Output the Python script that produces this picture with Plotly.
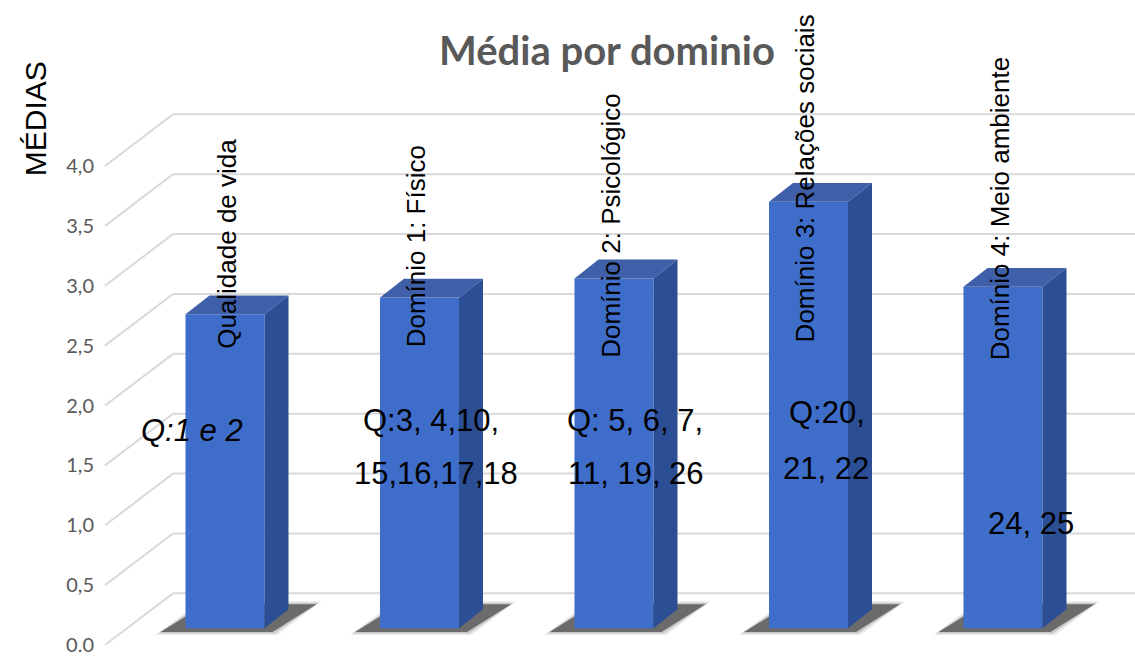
import plotly.graph_objects as go

# ---------------- data ----------------
categories = ["Qualidade de vida", "Domínio 1: Físico", "Domínio 2: Psicológico",
              "Domínio 3: Relações sociais", "Domínio 4: Meio ambiente"]
medias = [2.62, 2.76, 2.92, 3.56, 2.85]
question_lines = [["Q:1 e 2"], ["Q:3, 4,10,", "15,16,17,18"], ["Q: 5, 6, 7,", "11, 19, 26"],
                  ["Q:20,", "21, 22"], ["24, 25"]]
tick_vals = [0, 0.5, 1.0, 1.5, 2.0, 2.5, 3.0, 3.5, 4.0]
tick_text = ["0.0", "0,5", "1,0", "1,5", "2,0", "2,5", "3,0", "3,5", "4,0"]

# ---------------- style / geometry ----------------
W, H = 1135, 656
PX_PER_CAT = 194.5
PX_PER_UNIT = 120.5
X_FIRST = 225.0      # pixel centre of first bar
Y_ZERO = 632.0       # pixel of value 0 in bar plane
BAR_W = 79 / PX_PER_CAT
DX = 24 / PX_PER_CAT
DY = 19 / PX_PER_UNIT
FRONT_OFF = (649 - Y_ZERO) / PX_PER_UNIT     # front floor plane offset (units)
BACK_OFF = (Y_ZERO - 597) / PX_PER_UNIT      # back wall offset (units)

x_range = [-X_FIRST / PX_PER_CAT, (W - X_FIRST) / PX_PER_CAT]
y_range = [-(H - Y_ZERO) / PX_PER_UNIT, Y_ZERO / PX_PER_UNIT]

def px_to_x(px):
    return (px - X_FIRST) / PX_PER_CAT

FRONT_COL = "#3f6dca"
TOP_COL = "#3f5fa8"
SIDE_COL = "#2c4e95"
GRID_COL = "#d9d9d9"

fig = go.Figure()

# gridlines: diagonal floor lines + back wall horizontal lines
shapes = []
for v in tick_vals:
    shapes.append(dict(type="line", xref="x", yref="y", layer="below",
                       x0=px_to_x(105), y0=v - FRONT_OFF, x1=px_to_x(173), y1=v + BACK_OFF,
                       line=dict(color=GRID_COL, width=2)))
    shapes.append(dict(type="line", xref="x", yref="y", layer="below",
                       x0=px_to_x(173), y0=v + BACK_OFF, x1=x_range[1], y1=v + BACK_OFF,
                       line=dict(color=GRID_COL, width=2)))

# soft shadows under the bars (below traces)
def poly_path(pts):
    return "M " + " L ".join(f"{x},{y}" for x, y in pts) + " Z"

for i, v in enumerate(medias):
    l = i - BAR_W / 2
    for grow, col in [(5, "rgba(0,0,0,0.08)"), (2.5, "rgba(0,0,0,0.15)"), (0, "rgba(45,45,45,0.6)")]:
        pts = [(l + (-25 - grow) / PX_PER_CAT, (-4 - grow * 0.6) / PX_PER_UNIT),
               (l + (87 + grow) / PX_PER_CAT, (-4 - grow * 0.6) / PX_PER_UNIT),
               (l + (131 + grow) / PX_PER_CAT, (24 + grow * 0.6) / PX_PER_UNIT),
               (l + (20 - grow) / PX_PER_CAT, (24 + grow * 0.6) / PX_PER_UNIT)]
        shapes.append(dict(type="path", xref="x", yref="y", layer="below",
                           path=poly_path(pts), fillcolor=col, line=dict(width=0)))

# front faces (the bars)
fig.add_trace(go.Bar(x=list(range(len(medias))), y=medias, width=BAR_W,
                     marker=dict(color=FRONT_COL, line=dict(width=0)),
                     hovertext=categories, showlegend=False))

# 3D top and side faces computed from the values
for i, v in enumerate(medias):
    l, r = i - BAR_W / 2, i + BAR_W / 2
    fig.add_trace(go.Scatter(x=[l, r, r + DX, l + DX, l], y=[v, v, v + DY, v + DY, v],
                             fill="toself", fillcolor=TOP_COL, mode="lines",
                             line=dict(width=0), hoverinfo="skip", showlegend=False))
    fig.add_trace(go.Scatter(x=[r, r, r + DX, r + DX, r], y=[0, v, v + DY, DY, 0],
                             fill="toself", fillcolor=SIDE_COL, mode="lines",
                             line=dict(width=0), hoverinfo="skip", showlegend=False))

# invisible trace to carry the tick-label axis
fig.add_trace(go.Scatter(x=[0], y=[0], yaxis="y2", mode="markers", marker=dict(opacity=0),
                         hoverinfo="skip", showlegend=False))

annotations = []
# category labels (vertical)
cat_bottom_px = [353, 352, 362, 347, 365]
cat_xshift = [2, -4, -3, -4, -3]
for i, name in enumerate(categories):
    annotations.append(dict(text=name, x=i, xref="x", y=1 - cat_bottom_px[i] / H, yref="paper",
                            xanchor="center", yanchor="bottom", textangle=-90, showarrow=False,
                            xshift=cat_xshift[i],
                            font=dict(family="Liberation Sans, Arial", size=26, color="black")))

# question labels
q_pos = [[(192, 433)], [(431, 423), (436, 476)], [(635, 423), (636, 476)],
         [(827, 415), (826, 471)], [(1031, 527)]]
for i, lines in enumerate(question_lines):
    for j, txt in enumerate(lines):
        px, py = q_pos[i][j]
        t = "<i>" + txt + "</i>" if i == 0 else txt
        annotations.append(dict(text=t, x=px / W, xref="paper", y=1 - py / H, yref="paper",
                                xanchor="center", yanchor="middle", showarrow=False,
                                font=dict(family="Liberation Sans, Arial", size=31, color="black")))

# title
annotations.append(dict(text="<b>Média por dominio</b>", x=607 / W, y=1 - 50 / H,
                        xref="paper", yref="paper", xanchor="center", yanchor="middle",
                        showarrow=False, font=dict(family="Lato", size=40, color="#595959")))
# axis title
annotations.append(dict(text="MÉDIAS", x=35 / W, y=1 - 120 / H, xref="paper", yref="paper",
                        xanchor="center", yanchor="middle", textangle=-90, showarrow=False,
                        font=dict(family="Liberation Sans, Arial", size=30, color="black")))

fig.update_layout(
    width=W, height=H,
    margin=dict(l=0, r=0, t=0, b=0),
    paper_bgcolor="white", plot_bgcolor="rgba(0,0,0,0)",
    xaxis=dict(range=x_range, visible=False, domain=[0, 1]),
    yaxis=dict(range=y_range, visible=False, domain=[0, 1]),
    yaxis2=dict(overlaying="y", anchor="free", position=94 / W, side="left",
                range=[y_range[0] + FRONT_OFF, y_range[1] + FRONT_OFF],
                tickvals=tick_vals, ticktext=tick_text, showgrid=False, zeroline=False,
                showline=False, ticks="", ticklabeloverflow="allow",
                tickfont=dict(family="Lato", size=20, color="#595959")),
    shapes=shapes,
    annotations=annotations,
    showlegend=False,
)

fig.write_html("out.html")
